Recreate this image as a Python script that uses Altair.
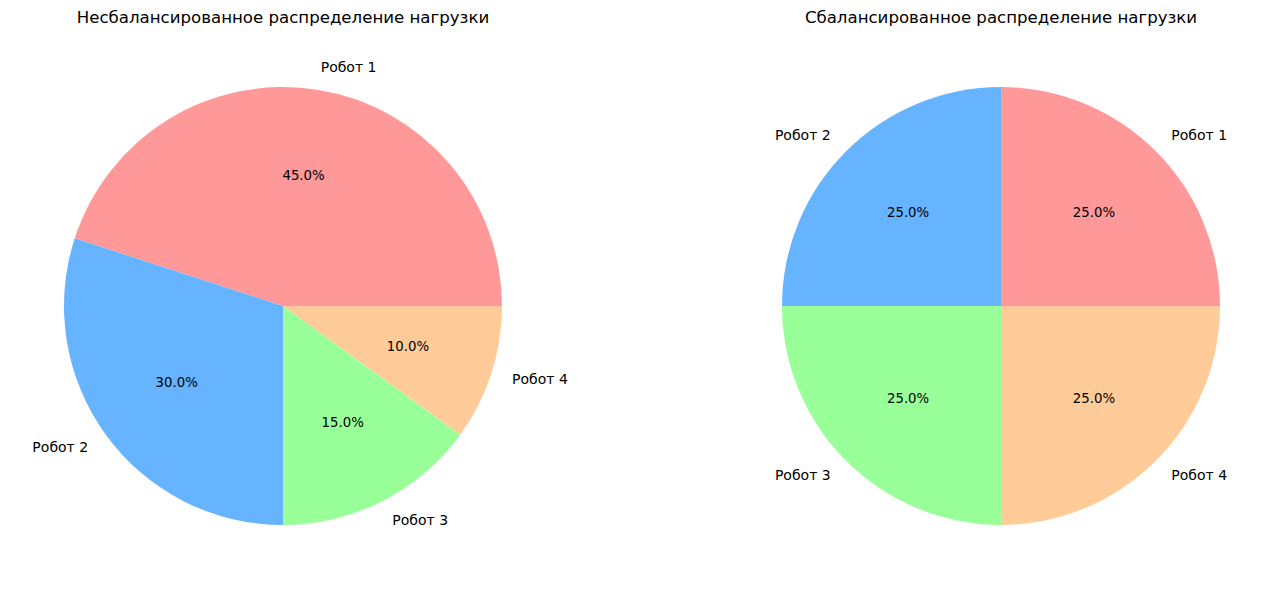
import math
import altair as alt
import pandas as pd

robots = ["Робот 1", "Робот 2", "Робот 3", "Робот 4"]
unbalanced = [45, 30, 15, 10]
balanced = [25, 25, 25, 25]
colors = ["#ff9999", "#66b3ff", "#99ff99", "#ffcc99"]
titles = ["Несбалансированное распределение нагрузки",
          "Сбалансированное распределение нагрузки"]

CY = 306
R = 219
FONT = "DejaVu Sans"

theta_scale = alt.Scale(domain=[0, 100], range=[2.5 * math.pi, 0.5 * math.pi])
color_scale = alt.Scale(domain=robots, range=colors)


def pie(values, cx, title):
    df = pd.DataFrame({"robot": robots, "value": values, "idx": list(range(len(robots)))})
    base = (
        alt.Chart(df)
        .transform_window(cum="sum(value)", sort=[alt.SortField("idx")], frame=[None, 0])
        .transform_calculate(
            start="datum.cum - datum.value",
            mid="datum.cum - datum.value / 2",
            pct="format(datum.value, '.1f') + '%'",
            right="cos(datum.mid / 100 * 2 * PI) > 0",
        )
    )
    arcs = base.mark_arc(stroke=None).encode(
        theta=alt.Theta("start:Q", scale=theta_scale),
        theta2=alt.Theta2("cum:Q"),
        color=alt.Color("robot:N", scale=color_scale, legend=None),
        x=alt.value(cx),
        y=alt.value(CY),
        radius=alt.value(R),
    )
    pct = base.mark_text(font=FONT, fontSize=13.3, color="black", align="center", baseline="middle").encode(
        theta=alt.Theta("mid:Q", scale=theta_scale),
        radius=alt.value(R * 0.6),
        text="pct:N",
        x=alt.value(cx),
        y=alt.value(CY),
    )
    lab_r = base.transform_filter("datum.right").mark_text(
        font=FONT, fontSize=14, color="black", align="left", baseline="middle"
    ).encode(
        theta=alt.Theta("mid:Q", scale=theta_scale),
        radius=alt.value(R * 1.1),
        text="robot:N",
        x=alt.value(cx),
        y=alt.value(CY),
    )
    lab_l = base.transform_filter("!datum.right").mark_text(
        font=FONT, fontSize=14, color="black", align="right", baseline="middle"
    ).encode(
        theta=alt.Theta("mid:Q", scale=theta_scale),
        radius=alt.value(R * 1.1),
        text="robot:N",
        x=alt.value(cx),
        y=alt.value(CY),
    )
    ttl = alt.Chart(pd.DataFrame({"t": [title]})).mark_text(
        font=FONT, fontSize=16.6, color="black", align="center", baseline="middle"
    ).encode(text="t:N", x=alt.value(cx), y=alt.value(18))
    return [arcs, pct, lab_r, lab_l, ttl]


layers = pie(unbalanced, 283, titles[0]) + pie(balanced, 1001, titles[1])

chart = (
    alt.layer(*layers)
    .properties(width=1285, height=590, autosize=alt.AutoSizeParams(type="none"), padding=0, background="white")
    .configure_view(stroke=None)
)

chart.save("out.html", embed_options={"renderer": "svg", "actions": False})
